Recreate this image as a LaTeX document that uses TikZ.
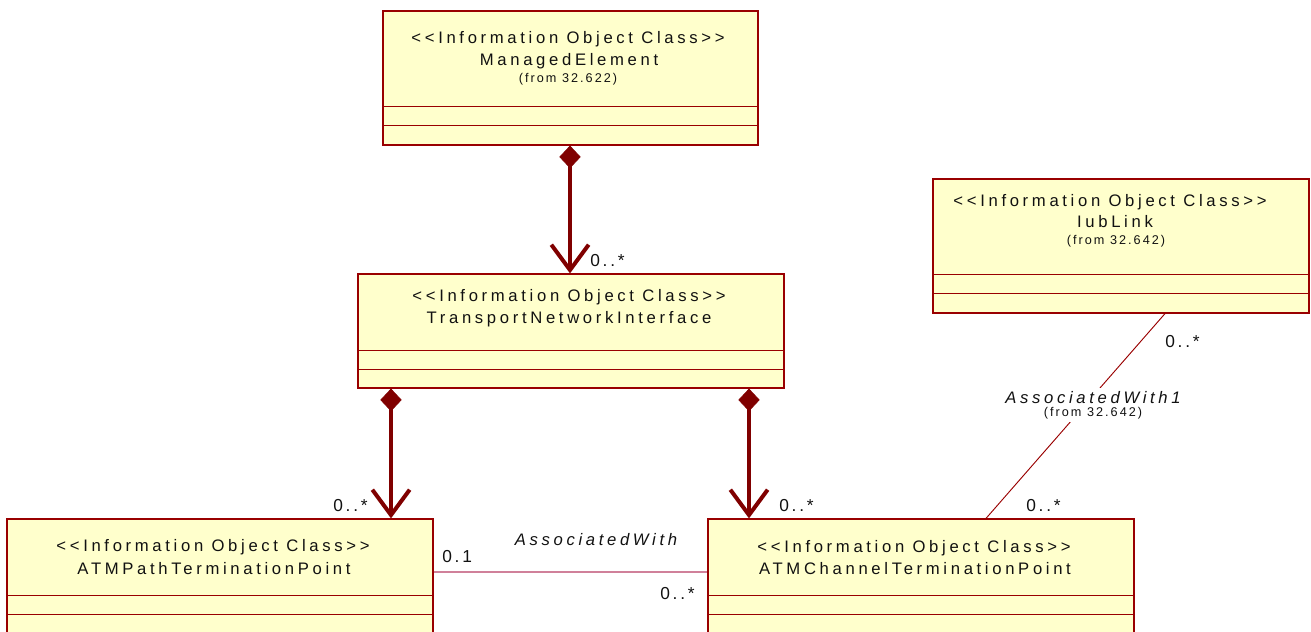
\documentclass[tikz,border=0pt]{standalone}
\usepackage{fontspec}
\setmainfont{Liberation Sans}[Ligatures=TeXOff, LetterSpace=22]
\newfontfamily\smallfam{Liberation Sans}[Ligatures=TeXOff, LetterSpace=16]
\usetikzlibrary{arrows.meta,fit}
\definecolor{boxfill}{HTML}{FFFFCC}
\definecolor{boxline}{HTML}{990000}
\definecolor{compc}{HTML}{800000}
\definecolor{assocpink}{HTML}{D0809A}
\definecolor{ink}{HTML}{111111}
\begin{document}
\begin{tikzpicture}[x=0.75pt,y=-0.75pt,
  umlbox/.style={draw=boxline, fill=boxfill, line width=0.9pt, inner sep=0pt},
  sepline/.style={draw=boxline, line width=0.8pt},
  txt/.style={inner sep=0pt, anchor=base, text=ink, font=\fontsize{12.5}{14}\selectfont},
  smalltxt/.style={inner sep=0pt, anchor=base, text=ink, font=\smallfam\fontsize{9.5}{11}\selectfont},
  mult/.style={inner sep=0pt, anchor=base west, text=ink, font=\smallfam\fontsize{13}{15}\selectfont},
  compline/.style={draw=compc, line width=3pt,
    {Diamond[length=17pt,width=16pt,line width=0.5pt]}-{Straight Barb[length=19pt,width=28pt]}},
  assocline/.style={draw=assocpink, line width=0.9pt},
  assocline1/.style={draw=boxline, line width=0.7pt},
]
\useasboundingbox (0,0) rectangle (1311,632);
\clip (0,0) rectangle (1311,632);

% boxes
\node[umlbox, fit={(383,11) (758,145)}] (me) {};
\draw[sepline] ([yshift=-72pt]me.north west) -- ([yshift=-72pt]me.north east);
\draw[sepline] ([yshift=-86.25pt]me.north west) -- ([yshift=-86.25pt]me.north east);

\node[umlbox, fit={(358,274) (784,388)}] (tni) {};
\draw[sepline] ([yshift=-57.75pt]tni.north west) -- ([yshift=-57.75pt]tni.north east);
\draw[sepline] ([yshift=-72pt]tni.north west) -- ([yshift=-72pt]tni.north east);

\node[umlbox, fit={(933,179) (1309,313)}] (iub) {};
\draw[sepline] ([yshift=-72pt]iub.north west) -- ([yshift=-72pt]iub.north east);
\draw[sepline] ([yshift=-86.25pt]iub.north west) -- ([yshift=-86.25pt]iub.north east);

\node[umlbox, fit={(7,519) (433,645)}] (atp) {};
\draw[sepline] ([yshift=-57.75pt]atp.north west) -- ([yshift=-57.75pt]atp.north east);
\draw[sepline] ([yshift=-72pt]atp.north west) -- ([yshift=-72pt]atp.north east);

\node[umlbox, fit={(708,519) (1134,645)}] (actp) {};
\draw[sepline] ([yshift=-57.75pt]actp.north west) -- ([yshift=-57.75pt]actp.north east);
\draw[sepline] ([yshift=-72pt]actp.north west) -- ([yshift=-72pt]actp.north east);

% texts in boxes
\node[txt] (me-st) at (568,43) {<<Information Object Class>>};
\node[txt] (me-nm) at (569,65) {ManagedElement};
\node[smalltxt] (me-fr) at (568,82.5) {(from 32.622)};

\node[txt] (tni-st) at (569,301) {<<Information Object Class>>};
\node[txt] (tni-nm) at (569,323) {TransportNetworkInterface};

\node[txt] (iub-st) at (1110,206) {<<Information Object Class>>};
\node[txt] (iub-nm) at (1115,227) {IubLink};
\node[smalltxt] (iub-fr) at (1116,244.5) {(from 32.642)};

\node[txt] (atp-st) at (213,551.5) {<<Information Object Class>>};
\node[txt] (atp-nm) at (214,574) {ATMPathTerminationPoint};

\node[txt] (actp-st) at (914,552) {<<Information Object Class>>};
\node[txt] (actp-nm) at (915,574) {ATMChannelTerminationPoint};

% compositions
\coordinate (xm) at (570,0);
\coordinate (xa) at (391,0);
\coordinate (xb) at (749,0);
\draw[compline] (xm |- me.south) -- (xm |- tni.north);
\draw[compline] (xa |- tni.south) -- (xa |- atp.north);
\draw[compline] (xb |- tni.south) -- (xb |- actp.north);

% association AssociatedWith
\coordinate (ya) at (0,572);
\draw[assocline] (atp.east |- ya) -- (actp.west |- ya);
\node[txt, font=\fontsize{12.5}{14}\selectfont\itshape] (aw) at (596,545) {AssociatedWith};

% association AssociatedWith1
\coordinate (x1) at (1165,0);
\coordinate (x2) at (986,0);
\draw[assocline1] (x1 |- iub.south) -- (x2 |- actp.north);
\node[fill=white, inner sep=2pt, align=center, text=ink] (aw1) at (1093,405)
  {{\fontsize{12.5}{14}\selectfont\itshape AssociatedWith1}\\[-2pt]{\smallfam\fontsize{9.5}{11}\selectfont (from 32.642)}};

% multiplicities
\node[mult] (m1) at (590,266) {0..*};
\node[mult] (m2) at (333,511) {0..*};
\node[mult] (m3) at (779,511) {0..*};
\node[mult] (m4) at (1026,511) {0..*};
\node[mult] (m5) at (1165,347) {0..*};
\node[mult] (m6) at (442,562) {0.1};
\node[mult] (m7) at (660,599) {0..*};
\end{tikzpicture}
\end{document}
